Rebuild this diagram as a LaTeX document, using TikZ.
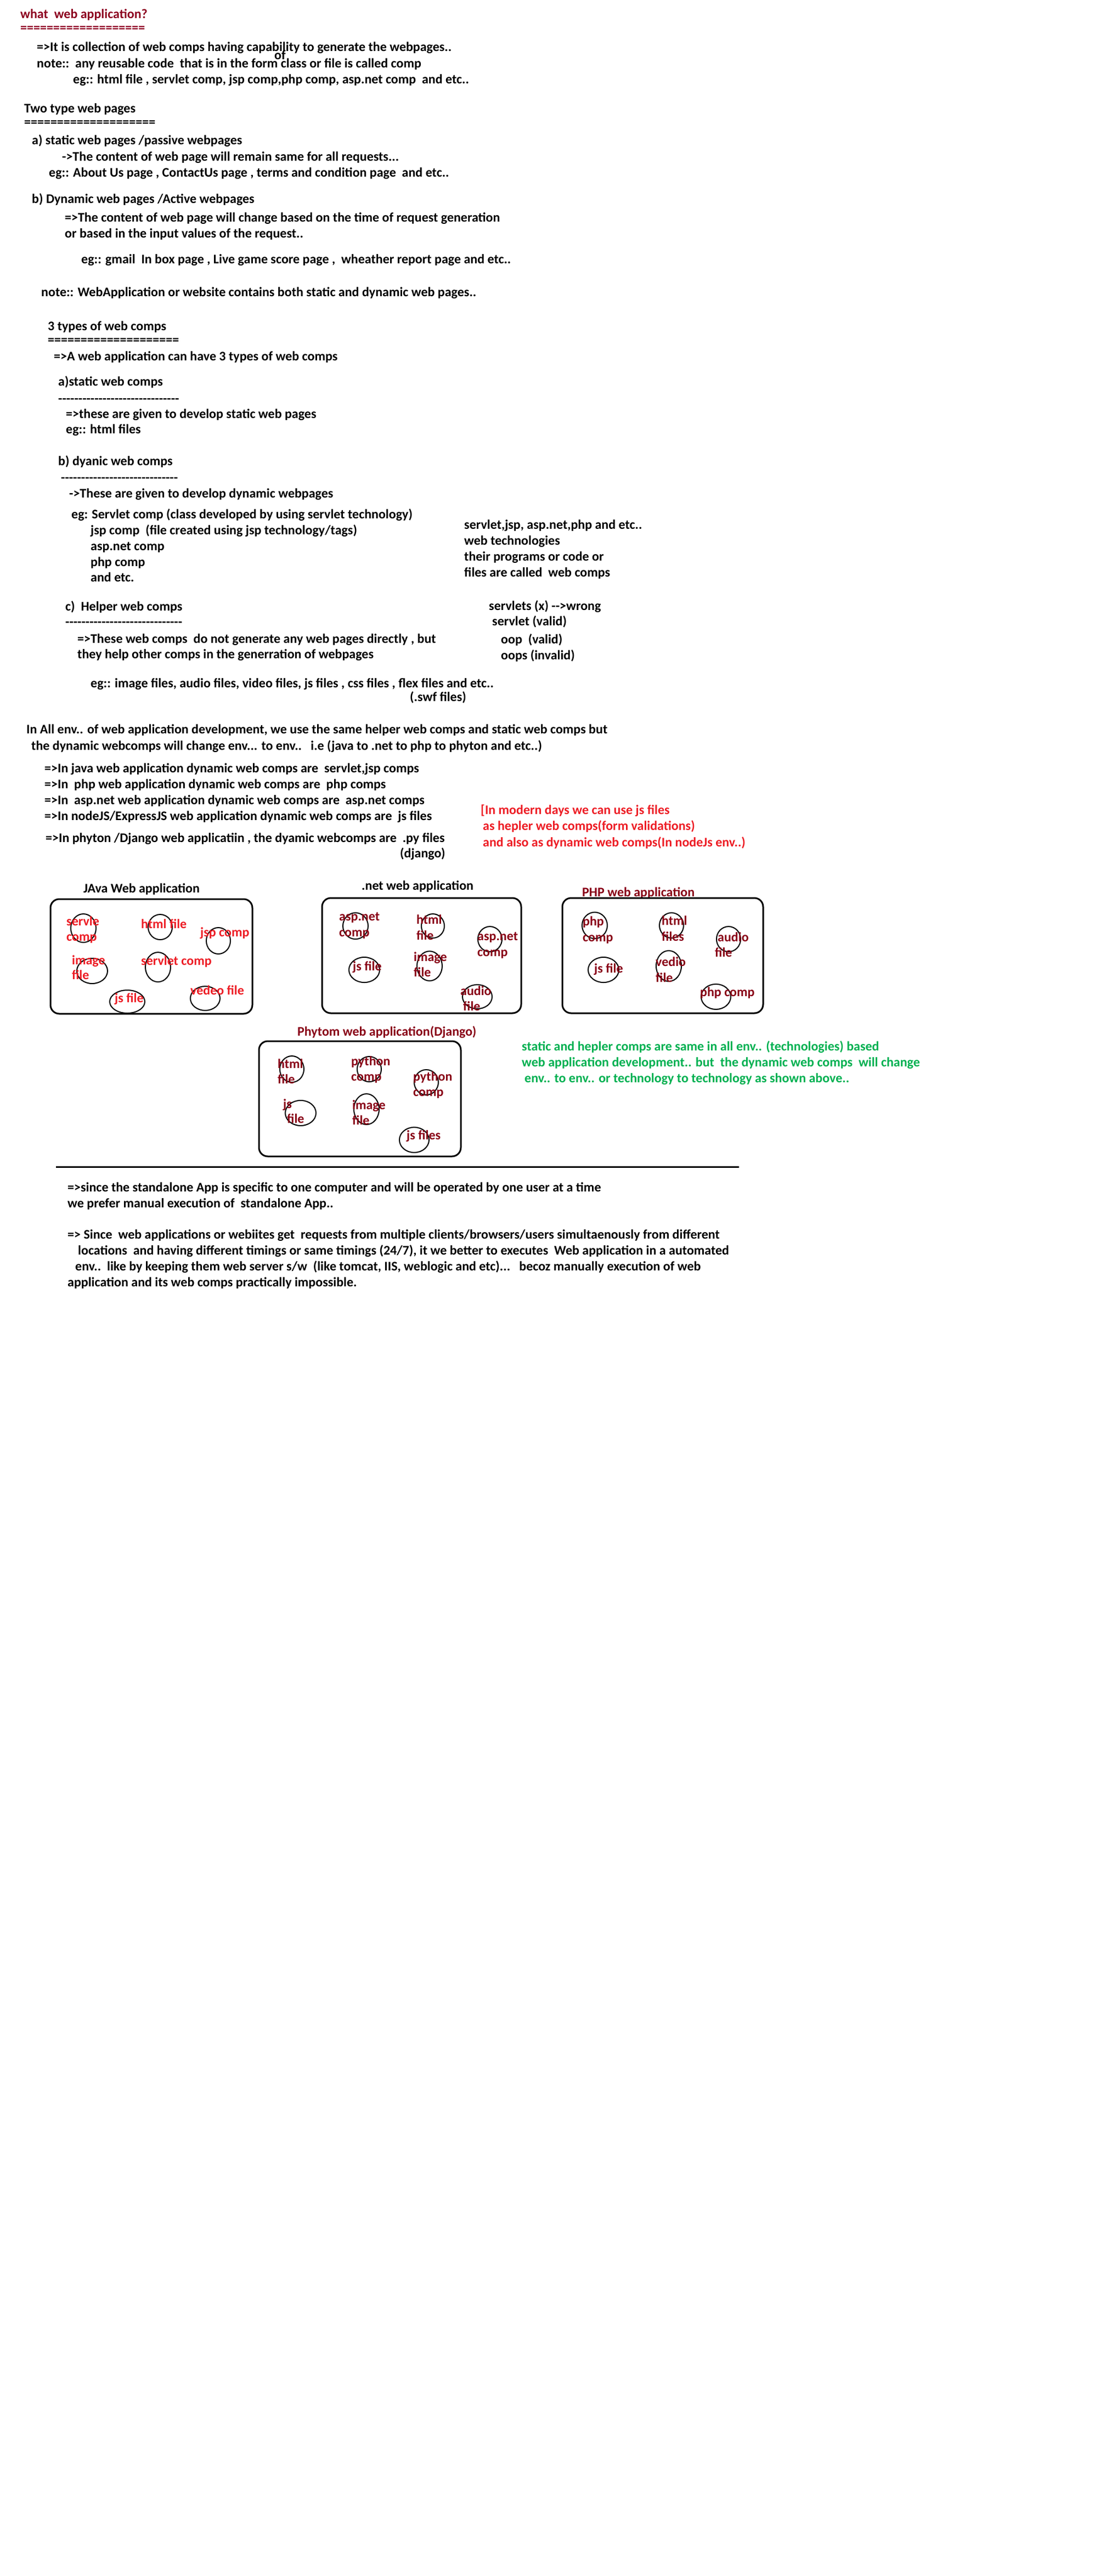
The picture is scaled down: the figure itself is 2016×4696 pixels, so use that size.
\documentclass[tikz,border=0pt]{standalone}
\usepackage{fontspec}
\newfontfamily\mainf{Carlito}
\definecolor{titlered}{RGB}{140,0,30}
\definecolor{pred}{RGB}{237,28,36}
\definecolor{dred}{RGB}{136,0,21}
\definecolor{pgreen}{RGB}{0,176,80}
\newcommand\dashline[1]{\foreach \k in {1,...,#1}{-\kern0pt}}
\begin{document}
\begin{tikzpicture}[x=1pt,y=-1pt,
  txt/.style={anchor=base west, inner sep=0pt, font=\mainf\fontsize{24}{28}\selectfont\bfseries, text=black},
  ttl/.style={txt, text=titlered},
  rlab/.style={txt, text=pred},
  dlab/.style={txt, text=dred},
  glab/.style={txt, text=pgreen},
  appbox/.style={draw=black, line width=3pt, rounded corners=16pt},
  ring/.style={draw=black, line width=2pt}]
\useasboundingbox[fill=white] (0,0) rectangle (2016,4696);

% ---- header ----
\node[ttl] (n01) at (37,33) {what\ \ web application?};
\node[ttl] (n02) at (37,58) {===================};
\node[txt] (n03) at (67,93) {=>It is collection of web comps having capability to generate the webpages..};
\node[txt] (n04) at (500,108) {of};
\node[txt] (n05) at (67,123) {note::\ \ any reusable code\ \ that is in the form class or file is called comp};
\node[txt] (n06) at (133,152) {eg:: html file , servlet comp, jsp comp,php comp, asp.net comp\ \ and etc..};
\node[txt] (n07) at (44,205) {Two type web pages};
\node[txt] (n08) at (44,230) {====================};
\node[txt] (n09) at (58,263) {a) static web pages /passive webpages};
\node[txt] (n10) at (113,293) {->The content of web page will remain same for all requests...};
\node[txt] (n11) at (89,322) {eg:: About Us page , ContactUs page , terms and condition page\ \ and etc..};
\node[txt] (n12) at (58,370) {b) Dynamic web pages /Active webpages};
\node[txt] (n13) at (118,404) {=>The content of web page will change based on the time of request generation};
\node[txt] (n14) at (118,433) {or based in the input values of the request..};
\node[txt] (n15) at (148,480) {eg:: gmail\ \ In box page , Live game score page ,\ \ wheather report page and etc..};
\node[txt] (n16) at (75,540) {note:: WebApplication or website contains both static and dynamic web pages..};
\node[txt] (n17) at (87,602) {3 types of web comps};
\node[txt] (n18) at (87,627) {====================};
\node[txt] (n19) at (98,657) {=>A web application can have 3 types of web comps};
\node[txt] (n20) at (106,703) {a)static web comps};
\node[txt] (n21) at (106,734) {\dashline{30}};
\node[txt] (n22) at (120,762) {=>these are given to develop static web pages};
\node[txt] (n23) at (120,790) {eg:: html files};
\node[txt] (n24) at (106,848) {b) dyanic web comps};
\node[txt] (n25) at (111,878) {\dashline{29}};
\node[txt] (n26) at (126,907) {->These are given to develop dynamic webpages};
\node[txt] (n27) at (130,945) {eg: Servlet comp (class developed by using servlet technology)};
\node[txt] (n28) at (165,974) {jsp comp\ \ (file created using jsp technology/tags)};
\node[txt] (n29) at (165,1003) {asp.net comp};
\node[txt] (n30) at (165,1032) {php comp};
\node[txt] (n31) at (165,1060) {and etc.};
\node[txt] (n32) at (846,964) {servlet,jsp, asp.net,php and etc..};
\node[txt] (n33) at (846,993) {web technologies};
\node[txt] (n34) at (846,1022) {their programs or code or};
\node[txt] (n35) at (846,1051) {files are called\ \ web comps};
\node[txt] (n36) at (119,1113) {c)\ \ Helper web comps};
\node[txt] (n37) at (119,1141) {\dashline{29}};
\node[txt] (n38) at (141,1172) {=>These web comps\ \ do not generate any web pages directly , but};
\node[txt] (n39) at (141,1200) {they help other comps in the generration of webpages};
\node[txt] (n40) at (165,1253) {eg:: image files, audio files, video files, js files , css files , flex files and etc..};
\node[txt] (n41) at (747,1278) {(.swf files)};
\node[txt] (n42) at (891,1112) {servlets (x) -\kern0pt->wrong};
\node[txt] (n43) at (897,1140) {servlet (valid)};
\node[txt] (n44) at (913,1173) {oop\ \ (valid)};
\node[txt] (n45) at (913,1202) {oops (invalid)};
\node[txt] (n46) at (48,1337) {In All env.. of web application development, we use the same helper web comps and static web comps but};
\node[txt] (n47) at (57,1367) {the dynamic webcomps will change env... to env..\ \ \ i.e (java to .net to php to phyton and etc..)};
\node[txt] (n48) at (81,1408) {=>In java web application dynamic web comps are\ \ servlet,jsp comps};
\node[txt] (n49) at (81,1437) {=>In\ \ php web application dynamic web comps are\ \ php comps};
\node[txt] (n50) at (81,1466) {=>In\ \ asp.net web application dynamic web comps are\ \ asp.net comps};
\node[txt] (n51) at (81,1495) {=>In nodeJS/ExpressJS web application dynamic web comps are\ \ js files};
\node[txt] (n52) at (83,1535) {=>In phyton /Django web applicatiin , the dyamic webcomps are\ \ .py files};
\node[txt] (n53) at (729,1563) {(django)};
\node[rlab] (n54) at (876,1484) {[In modern days we can use js files};
\node[rlab] (n55) at (880,1513) {as hepler web comps(form validations)};
\node[rlab] (n56) at (880,1543) {and also as dynamic web comps(In nodeJs env..)};

% ---- Java web application ----
\node[txt] (jt) at (152,1627) {JAva Web application};
\draw[appbox] (92,1639) rectangle (460,1848);
\draw[ring] (152,1692) ellipse [x radius=23pt, y radius=26pt];
\draw[ring] (292,1690) ellipse [x radius=22pt, y radius=23pt];
\draw[ring] (398,1715) ellipse [x radius=22pt, y radius=24pt];
\draw[ring] (168,1770) ellipse [x radius=28pt, y radius=23pt];
\draw[ring] (288,1763) ellipse [x radius=23pt, y radius=27pt];
\draw[ring] (232,1826) ellipse [x radius=32pt, y radius=21pt];
\draw[ring] (374,1820) ellipse [x radius=27pt, y radius=22pt];
\node[rlab] (j1) at (121,1687) {servle};
\node[rlab] (j2) at (121,1715) {comp};
\node[rlab] (j3) at (257,1692) {html file};
\node[rlab] (j4) at (365,1707) {jsp comp};
\node[rlab] (j5) at (131,1758) {image};
\node[rlab] (j6) at (131,1785) {file};
\node[rlab] (j7) at (257,1759) {servlet comp};
\node[rlab] (j8) at (209,1827) {js file};
\node[rlab] (j9) at (347,1813) {vedeo file};

% ---- .net web application ----
\node[txt] (nt) at (659,1622) {.net web application};
\draw[appbox] (587,1637) rectangle (950,1847);
\draw[ring] (648,1688) ellipse [x radius=23pt, y radius=24pt];
\draw[ring] (789,1688) ellipse [x radius=21pt, y radius=22pt];
\draw[ring] (893,1712) ellipse [x radius=22pt, y radius=23pt];
\draw[ring] (664,1768) ellipse [x radius=28pt, y radius=23pt];
\draw[ring] (783,1761) ellipse [x radius=23pt, y radius=27pt];
\draw[ring] (870,1817) ellipse [x radius=27pt, y radius=22pt];
\node[dlab] (d1) at (618,1678) {asp.net};
\node[dlab] (d2) at (618,1707) {comp};
\node[dlab] (d3) at (759,1684) {html};
\node[dlab] (d4) at (759,1713) {file};
\node[dlab] (d5) at (870,1714) {asp.net};
\node[dlab] (d6) at (870,1743) {comp};
\node[dlab] (d7) at (643,1769) {js file};
\node[dlab] (d8) at (754,1752) {image};
\node[dlab] (d9) at (754,1780) {file};
\node[dlab] (d10) at (839,1814) {audio};
\node[dlab] (d11) at (844,1842) {file};

% ---- PHP web application ----
\node[dlab] (pt) at (1061,1634) {PHP web application};
\draw[appbox] (1025,1637) rectangle (1391,1847);
\draw[ring] (1084,1687) ellipse [x radius=23pt, y radius=24pt];
\draw[ring] (1224,1687) ellipse [x radius=22pt, y radius=23pt];
\draw[ring] (1328,1712) ellipse [x radius=22pt, y radius=23pt];
\draw[ring] (1100,1768) ellipse [x radius=28pt, y radius=23pt];
\draw[ring] (1219,1761) ellipse [x radius=23pt, y radius=28pt];
\draw[ring] (1305,1817) ellipse [x radius=27pt, y radius=23pt];
\node[dlab] (p1) at (1062,1687) {php};
\node[dlab] (p2) at (1062,1716) {comp};
\node[dlab] (p3) at (1206,1686) {html};
\node[dlab] (p4) at (1206,1715) {files};
\node[dlab] (p5) at (1308,1716) {audio};
\node[dlab] (p6) at (1303,1744) {file};
\node[dlab] (p7) at (1083,1773) {js file};
\node[dlab] (p8) at (1195,1761) {vedio};
\node[dlab] (p9) at (1195,1790) {file};
\node[dlab] (p10) at (1276,1816) {php comp};

% ---- Python / Django web application ----
\node[dlab] (yt) at (542,1888) {Phytom web application(Django)};
\draw[appbox] (472,1898) rectangle (840,2108);
\draw[ring] (532,1949) ellipse [x radius=22pt, y radius=24pt];
\draw[ring] (673,1949) ellipse [x radius=22pt, y radius=23pt];
\draw[ring] (777,1973) ellipse [x radius=22pt, y radius=23pt];
\draw[ring] (548,2029) ellipse [x radius=28pt, y radius=23pt];
\draw[ring] (668,2022) ellipse [x radius=23pt, y radius=28pt];
\draw[ring] (755,2078) ellipse [x radius=27pt, y radius=23pt];
\node[dlab] (y1) at (506,1947) {html};
\node[dlab] (y2) at (506,1975) {file};
\node[dlab] (y3) at (640,1942) {python};
\node[dlab] (y4) at (640,1970) {comp};
\node[dlab] (y5) at (753,1970) {python};
\node[dlab] (y6) at (753,1998) {comp};
\node[dlab] (y7) at (516,2020) {js};
\node[dlab] (y8) at (523,2047) {file};
\node[dlab] (y9) at (642,2022) {image};
\node[dlab] (y10) at (642,2050) {file};
\node[dlab] (y11) at (741,2077) {js files};

% ---- green note ----
\node[glab] (g1) at (951,1915) {static and hepler comps are same in all env.. (technologies) based};
\node[glab] (g2) at (951,1944) {web application development.. but\ \ the dynamic web comps\ \ will change};
\node[glab] (g3) at (956,1973) {env.. to env.. or technology to technology as shown above..};

% ---- separator ----
\coordinate (hl1) at (102,2127);
\coordinate (hl2) at (1347,2127);
\draw[line width=3pt] (hl1) -- (hl2);

% ---- bottom text ----
\node[txt] (b1) at (123,2172) {=>since the standalone App is specific to one computer and will be operated by one user at a time};
\node[txt] (b2) at (123,2201) {we prefer manual execution of\ \ standalone App..};
\node[txt] (b3) at (123,2258) {=> Since\ \ web applications or webiites get\ \ requests from multiple clients/browsers/users simultaenously from different};
\node[txt] (b4) at (142,2287) {locations\ \ and having different timings or same timings (24/7), it we better to executes\ \ Web application in a automated};
\node[txt] (b5) at (137,2316) {env..\ \ like by keeping them web server s/w\ \ (like tomcat, IIS, weblogic and etc)...\ \ \ becoz manually execution of web};
\node[txt] (b6) at (123,2345) {application and its web comps practically impossible.};
\end{tikzpicture}
\end{document}
